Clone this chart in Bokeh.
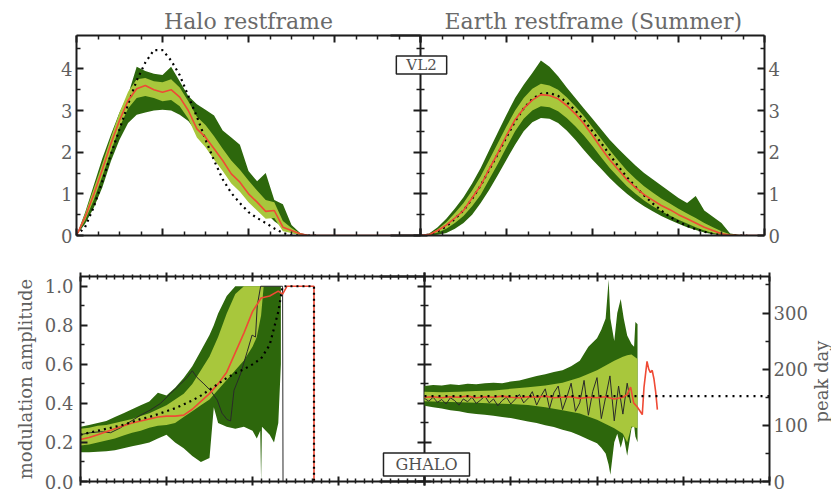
import math
from bokeh.plotting import figure
from bokeh.models import Range1d, LinearAxis, FixedTicker, Label, NumeralTickFormatter
from bokeh.layouts import row, column
from bokeh.embed import file_html
from bokeh.resources import INLINE

# ---------------- data ----------------
# top-left: Halo restframe, speed grid (km/s)
tl_v = [0, 20, 40, 60, 80, 100, 120, 140, 160, 180, 200, 220, 240, 260, 280, 300,
        320, 340, 360, 380, 400, 420, 440, 460, 480, 500, 520, 540, 560]
tl_dark_hi = [0, 0.55, 1.2, 1.85, 2.42, 2.95, 3.38, 4.05, 3.95, 3.88, 3.85, 4.05, 3.7, 3.35, 3.15,
              3.02, 2.88, 2.52, 2.35, 2.18, 1.55, 1.3, 1.5, 0.85, 0.75, 0.25, 0.06, 0.01, 0]
tl_dark_lo = [0, 0.28, 0.66, 1.15, 1.78, 2.3, 2.7, 2.9, 2.95, 3.0, 3.02, 3.0, 2.9, 2.75, 2.48,
              2.18, 1.87, 1.6, 1.38, 1.17, 0.95, 0.76, 0.55, 0.34, 0.2, 0.06, 0.02, 0, 0]
tl_light_hi = [0, 0.52, 1.12, 1.72, 2.35, 2.95, 3.45, 3.75, 3.78, 3.7, 3.68, 3.75, 3.55, 3.22, 2.85,
               2.65, 2.38, 2.08, 1.8, 1.58, 1.32, 1.08, 0.85, 0.8, 0.35, 0.18, 0.05, 0, 0]
tl_light_lo = [0, 0.36, 0.85, 1.42, 2.02, 2.6, 3.05, 3.3, 3.35, 3.3, 3.22, 3.25, 3.1, 2.8, 2.35,
               2.12, 1.82, 1.55, 1.25, 1.05, 0.8, 0.6, 0.4, 0.42, 0.1, 0.06, 0.01, 0, 0]
tl_red_v = tl_v + [800]
tl_red = [0, 0.44, 0.98, 1.58, 2.2, 2.76, 3.24, 3.52, 3.6, 3.5, 3.44, 3.5, 3.32, 3.0, 2.56,
          2.36, 2.08, 1.8, 1.48, 1.28, 1.0, 0.8, 0.58, 0.6, 0.2, 0.12, 0.04, 0, 0, 0]
tl_dot = [0, 0.2, 0.68, 1.3, 1.95, 2.55, 3.15, 3.72, 4.15, 4.45, 4.45, 4.2, 3.85, 3.35, 2.85,
          2.3, 1.8, 1.35, 1.02, 0.78, 0.56, 0.42, 0.3, 0.17, 0.06, 0.01, 0, 0, 0]

# top-right: Earth restframe (Summer)
tr_v = [0, 20, 40, 60, 80, 100, 120, 140, 160, 180, 200, 220, 240, 260, 280, 300, 320, 340, 360,
        380, 400, 420, 440, 460, 480, 500, 520, 540, 560, 580, 600, 620, 640, 660, 680, 700, 720,
        740, 760]
tr_dark_hi = [0, 0.05, 0.2, 0.4, 0.65, 0.92, 1.25, 1.62, 2.05, 2.48, 2.9, 3.3, 3.62, 3.9, 4.2, 4.05,
              3.82, 3.55, 3.3, 3.05, 2.8, 2.55, 2.3, 2.08, 1.88, 1.68, 1.5, 1.35, 1.2, 1.05, 0.9,
              0.78, 0.95, 0.6, 0.45, 0.3, 0.05, 0.02, 0]
tr_dark_lo = [0, 0, 0.02, 0.06, 0.16, 0.3, 0.5, 0.78, 1.1, 1.45, 1.82, 2.18, 2.5, 2.72, 2.82, 2.8,
              2.7, 2.52, 2.3, 2.05, 1.82, 1.6, 1.38, 1.18, 1.0, 0.84, 0.7, 0.58, 0.47, 0.37, 0.28,
              0.2, 0.13, 0.07, 0.03, 0.01, 0, 0, 0]
tr_light_hi = [0, 0.03, 0.15, 0.32, 0.54, 0.78, 1.08, 1.42, 1.82, 2.22, 2.62, 3.0, 3.3, 3.52, 3.64,
               3.6, 3.5, 3.32, 3.1, 2.87, 2.6, 2.32, 2.05, 1.8, 1.56, 1.36, 1.18, 1.03, 0.89, 0.77,
               0.64, 0.53, 0.42, 0.3, 0.2, 0.1, 0.03, 0, 0]
tr_light_lo = [0, 0.01, 0.07, 0.16, 0.3, 0.47, 0.7, 0.98, 1.35, 1.72, 2.12, 2.5, 2.8, 3.0, 3.1, 3.08,
               2.98, 2.82, 2.62, 2.4, 2.15, 1.88, 1.62, 1.4, 1.18, 1.0, 0.84, 0.7, 0.58, 0.48, 0.38,
               0.29, 0.2, 0.12, 0.06, 0.02, 0, 0, 0]
tr_red_v = tr_v + [800]
tr_red = [0, 0.02, 0.12, 0.25, 0.42, 0.6, 0.9, 1.2, 1.6, 1.98, 2.4, 2.78, 3.05, 3.25, 3.38, 3.36,
          3.28, 3.12, 2.92, 2.68, 2.4, 2.1, 1.82, 1.58, 1.34, 1.15, 0.98, 0.85, 0.72, 0.62, 0.5,
          0.4, 0.3, 0.2, 0.12, 0.04, 0.01, 0, 0, 0]
tr_dot = [0, 0.02, 0.1, 0.22, 0.4, 0.6, 0.88, 1.2, 1.58, 1.96, 2.36, 2.74, 3.05, 3.28, 3.4, 3.42,
          3.35, 3.2, 3.0, 2.77, 2.5, 2.22, 1.94, 1.66, 1.4, 1.17, 0.96, 0.77, 0.6, 0.45, 0.33,
          0.23, 0.15, 0.09, 0.04, 0.01, 0, 0, 0]

# bottom-left: modulation amplitude
bl_dark_v = [0, 20, 40, 60, 80, 100, 120, 140, 160, 180, 200, 220, 240, 260, 280, 300, 310, 320,
             340, 360, 380, 400, 410, 418, 420, 422, 440, 450, 460, 466]
bl_dark_hi = [0.28, 0.29, 0.30, 0.31, 0.33, 0.35, 0.37, 0.39, 0.41, 0.455, 0.44, 0.48, 0.53, 0.59,
              0.67, 0.75, 0.80, 0.86, 0.95, 1.0, 1.0, 1.0, 1.0, 1.0, 1.0, 1.0, 1.0, 1.0, 1.0, 1.0]
bl_dark_lo = [0.15, 0.15, 0.152, 0.155, 0.16, 0.17, 0.18, 0.19, 0.2, 0.22, 0.24, 0.2, 0.17, 0.13,
              0.1, 0.12, 0.38, 0.3, 0.28, 0.27, 0.28, 0.26, 0.22, 0.26, 0.0, 0.28, 0.24, 0.2, 0.3, 0.6]
bl_light_v = [0, 20, 40, 60, 80, 100, 120, 140, 160, 180, 200, 220, 240, 260, 280, 300, 320, 340,
              360, 380, 400, 410, 420, 426]
bl_light_hi = [0.27, 0.275, 0.285, 0.29, 0.30, 0.31, 0.32, 0.335, 0.35, 0.37, 0.39, 0.42, 0.45, 0.5,
               0.57, 0.64, 0.74, 0.86, 0.96, 1.0, 1.0, 1.0, 1.0, 1.0]
bl_light_lo = [0.185, 0.19, 0.2, 0.21, 0.22, 0.235, 0.25, 0.26, 0.275, 0.285, 0.29, 0.3, 0.33, 0.36,
               0.39, 0.42, 0.47, 0.52, 0.57, 0.62, 0.69, 0.74, 0.85, 1.0]
bl_red_v = [0, 20, 40, 60, 80, 100, 120, 140, 160, 180, 200, 220, 240, 260, 280, 300, 320, 340, 360,
            380, 400, 420, 440, 460, 470, 480, 500, 520, 540, 543, 543]
bl_red = [0.215, 0.225, 0.24, 0.255, 0.27, 0.285, 0.3, 0.31, 0.32, 0.33, 0.335, 0.335, 0.34, 0.37,
          0.41, 0.45, 0.5, 0.56, 0.66, 0.76, 0.87, 0.94, 0.95, 0.975, 0.96, 1.0, 1.0, 1.0, 1.0, 1.0, 0.0]
bl_dot_v = [0, 20, 40, 60, 80, 100, 120, 140, 160, 180, 200, 220, 240, 260, 280, 300, 320, 340, 360,
            380, 400, 420, 440, 460, 470, 500, 543, 543]
bl_dot = [0.24, 0.25, 0.26, 0.27, 0.28, 0.29, 0.305, 0.32, 0.33, 0.345, 0.36, 0.375, 0.395, 0.415,
          0.44, 0.47, 0.5, 0.53, 0.555, 0.575, 0.6, 0.63, 0.7, 0.87, 1.0, 1.0, 1.0, 0.0]
bl_blk_v = [0, 23, 47, 70, 93, 140, 163, 186, 209, 233, 248, 260, 271, 287, 302, 318, 329, 341, 349,
            357, 372, 388, 399, 407, 411, 419, 470, 471]
bl_blk = [0.24, 0.25, 0.255, 0.25, 0.275, 0.34, 0.367, 0.4, 0.45, 0.5, 0.533, 0.567, 0.533, 0.5,
          0.467, 0.417, 0.35, 0.317, 0.31, 0.467, 0.55, 0.667, 0.75, 0.74, 0.9, 1.0, 1.0, 0.0]

# bottom-right: peak day
br_dark_v = [0, 20, 40, 60, 80, 100, 120, 140, 160, 180, 200, 220, 240, 260, 280, 300, 320, 340,
             360, 380, 400, 410, 420, 427, 431, 440, 447, 455, 462, 470, 480, 486, 489, 494]
br_dark_hi = [170, 172, 171, 173, 172, 174, 173, 175, 176, 175, 178, 180, 184, 188, 191, 195, 198,
              205, 215, 240, 255, 270, 290, 359, 290, 250, 300, 325, 290, 260, 245, 240, 284, 280]
br_dark_lo = [135, 132, 130, 127, 125, 122, 120, 119, 117, 115, 113, 110, 107, 104, 100, 97, 92, 88,
              82, 75, 68, 60, 50, 30, 12, 70, 85, 60, 80, 46, 95, 100, 80, 70]
br_light_v = [0, 40, 80, 120, 160, 200, 240, 280, 320, 360, 400, 440, 460, 470, 480, 494]
br_light_hi = [160, 159, 160, 161, 162, 165, 168, 171, 176, 185, 198, 215, 222, 225, 226, 218]
br_light_lo = [143, 142, 141, 140, 139, 138, 136, 132, 127, 121, 110, 95, 85, 70, 98, 95]
br_red_v = [0, 20, 40, 60, 80, 100, 120, 140, 160, 180, 200, 220, 240, 260, 280, 300, 320, 340, 360,
            380, 400, 420, 440, 460, 470, 478, 485, 493, 500, 505, 509, 516, 520, 524, 528, 532, 536,
            540]
br_red = [150, 151, 149, 151, 150, 152, 149, 151, 150, 152, 150, 149, 151, 150, 152, 149, 150, 151,
          148, 150, 149, 151, 147, 150, 155, 168, 140, 133, 125, 119, 168, 214, 200, 194, 198, 183,
          160, 128]
br_blk_v = [0, 10, 20, 30, 40, 50, 60, 70, 80, 90, 100, 110, 120, 130, 140, 150, 160, 170, 180, 190,
            200, 210, 220, 230, 240, 250, 260, 270, 280, 290, 300, 310, 320, 330, 340, 350, 360, 370,
            380, 390, 400, 410, 420, 430, 440, 450, 460, 470, 478]
br_blk = [148, 143, 150, 141, 146, 138, 149, 144, 136, 147, 142, 150, 139, 145, 152, 140, 147, 135,
          144, 150, 138, 146, 155, 140, 148, 160, 136, 152, 165, 130, 158, 170, 128, 150, 175, 125,
          140, 180, 118, 160, 185, 112, 150, 188, 108, 170, 120, 175, 140]
br_ref_v = [0, 800]
br_ref = [152, 152]

x_major = [0, 200, 400, 600, 800]
x_minor_top = [v for v in range(0, 801, 50) if v % 200]
x_minor_bot = [v for v in range(0, 801, 20) if v % 200]
f_major = [0, 1, 2, 3, 4]
f_minor = [0.5, 1.5, 2.5, 3.5, 4.5]
a_major = [0.0, 0.2, 0.4, 0.6, 0.8, 1.0]
a_minor = [0.1, 0.3, 0.5, 0.7, 0.9]
d_major = [0, 100, 200, 300]
d_minor = [50, 150, 250, 350]

# ---------------- style / geometry ----------------
FONT = "DejaVu Serif"
TXT = "#5f5f5f"
AX = "#1c1c1c"
DARK = "#2d670c"
LIGHT = "#a8c73c"
RED = "#ef4a35"

TOP_H, BOT_H = 256, 236
PW_TOP, PW_BOT = 344, 345        # panel widths in px
INNER = 8                        # border on the right of the left panels (outward ticks)
TR_EXT, BR_EXT = 30, 45          # right panels' frames reach left under the boxed labels


def make_fig(w, h, xr, yr, bl, br, bt, bb, margin=None, frame_fill="white", title=""):
    kw = {}
    if margin is not None:
        kw["margin"] = margin
    p = figure(width=w, height=h, x_range=Range1d(*xr), y_range=Range1d(*yr),
               x_axis_location=None, y_axis_location=None, toolbar_location=None,
               output_backend="svg", min_border_left=bl, min_border_right=br,
               min_border_top=bt, min_border_bottom=bb, title=title, **kw)
    for g in p.grid:
        g.visible = False
    p.outline_line_color = None
    p.background_fill_color = frame_fill
    p.border_fill_color = None
    return p


def add_axis(p, side, ticks, minor, tin, tout, mtin, mtout, labels=False, fmt=None,
             size="18px", y_range_name=None, axis_label=None, standoff=4):
    kw = {}
    if y_range_name:
        kw["y_range_name"] = y_range_name
    ax = LinearAxis(ticker=FixedTicker(ticks=ticks, minor_ticks=minor), **kw)
    ax.axis_line_color = AX
    ax.axis_line_width = 2
    ax.major_tick_line_color = AX
    ax.major_tick_line_width = 2
    ax.minor_tick_line_color = AX
    ax.minor_tick_line_width = 1.5
    ax.major_tick_in = tin
    ax.major_tick_out = tout
    ax.minor_tick_in = mtin
    ax.minor_tick_out = mtout
    if labels:
        ax.major_label_text_font = FONT
        ax.major_label_text_font_size = size
        ax.major_label_text_color = TXT
        ax.major_label_standoff = standoff
        if fmt:
            ax.formatter = NumeralTickFormatter(format=fmt)
    else:
        ax.major_label_text_font_size = "0px"
        ax.major_label_text_color = None
        ax.major_label_standoff = 0
    if axis_label:
        ax.axis_label = axis_label
        ax.axis_label_text_font = FONT
        ax.axis_label_text_font_size = "18px"
        ax.axis_label_text_font_style = "normal"
        ax.axis_label_text_color = TXT
        ax.axis_label_standoff = 6
    p.add_layout(ax, side)
    return ax


def set_title(p, text, align="center", offset=0):
    p.title.text = text
    p.title.align = align
    p.title.offset = offset
    p.title.text_font = FONT
    p.title.text_font_size = "22px"
    p.title.text_font_style = "normal"
    p.title.text_color = "#6a6a6a"
    p.title.standoff = 3


def box_label(p, x, y, text, size, pad, xoff=0):
    p.add_layout(Label(x=x, y=y, text=text, text_align="center", text_baseline="middle",
                       x_offset=xoff, text_font=FONT, text_font_size=size, text_color="#505050",
                       background_fill_color="white", border_line_color="#222222",
                       border_line_width=1.5, padding=pad))


# ---------------- top-left ----------------
tl = make_fig(76 + PW_TOP + INNER, TOP_H, (0, 800), (0, 4.8), 76, INNER, 35, 21)
set_title(tl, "Halo restframe")
add_axis(tl, "left", f_major, f_minor, 7, 0, 4, 0, labels=True)
add_axis(tl, "right", f_major, f_minor, 7, 7, 4, 4)
add_axis(tl, "above", x_major, x_minor_top, 7, 0, 4, 0)
add_axis(tl, "below", x_major, x_minor_top, 7, 0, 4, 0)
tl.varea(x=tl_v, y1=tl_dark_lo, y2=tl_dark_hi, fill_color=DARK)
tl.varea(x=tl_v, y1=tl_light_lo, y2=tl_light_hi, fill_color=LIGHT)
tl.line(tl_v, tl_dot, line_color="black", line_width=2.2, line_dash="2 4")
tl.line(tl_red_v, tl_red, line_color=RED, line_width=1.6)

# ---------------- top-right ----------------
tr_x0 = -800.0 * TR_EXT / PW_TOP
tr = make_fig(TR_EXT + PW_TOP + 67, TOP_H, (tr_x0, 800), (0, 4.8), 0, 67, 35, 21,
              margin=(0, 0, 0, -(INNER + TR_EXT)), frame_fill=None)
set_title(tr, "Earth restframe (Summer)", align="left", offset=TR_EXT + 24)
add_axis(tr, "right", f_major, f_minor, 7, 0, 4, 0, labels=True)
add_axis(tr, "above", x_major, x_minor_top, 7, 0, 4, 0)
add_axis(tr, "below", x_major, x_minor_top, 7, 0, 4, 0)
tr.varea(x=tr_v, y1=tr_dark_lo, y2=tr_dark_hi, fill_color=DARK)
tr.varea(x=tr_v, y1=tr_light_lo, y2=tr_light_hi, fill_color=LIGHT)
tr.line(tr_v, tr_dot, line_color="black", line_width=2.2, line_dash="2 4")
tr.line(tr_red_v, tr_red, line_color=RED, line_width=1.6)
box_label(tr, 0, 4.09, "VL2", "15px", (10, 0), xoff=1)

# ---------------- bottom-left ----------------
bl = make_fig(80 + PW_TOP + INNER, BOT_H, (0, 800), (0, 1.05), 80, INNER, 20, 11)
add_axis(bl, "left", a_major, a_minor, 7, 0, 4, 0, labels=True, fmt="0.0", size="18px",
         axis_label="modulation amplitude", standoff=7)
add_axis(bl, "right", a_major, a_minor, 7, 7, 4, 4)
add_axis(bl, "above", x_major, x_minor_bot, 5, 4, 3, 2)
add_axis(bl, "below", x_major, x_minor_bot, 5, 4, 3, 2)
bl.varea(x=bl_dark_v, y1=bl_dark_lo, y2=bl_dark_hi, fill_color=DARK)
bl.varea(x=bl_light_v, y1=bl_light_lo, y2=bl_light_hi, fill_color=LIGHT)
bl.line(bl_blk_v, bl_blk, line_color="#2a2a2a", line_width=1)
bl.line(bl_red_v, bl_red, line_color=RED, line_width=1.6)
bl.line(bl_dot_v, bl_dot, line_color="black", line_width=2.2, line_dash="2 4")

# ---------------- bottom-right ----------------
br_x0 = -800.0 * BR_EXT / PW_BOT
BR_RIGHT = 41
br = make_fig(BR_EXT + PW_BOT + BR_RIGHT, BOT_H, (br_x0, 800), (0, 1.05), 0, BR_RIGHT, 20, 11,
              margin=(0, 0, 0, -(INNER + BR_EXT)), frame_fill=None)
br.extra_y_ranges = {"peak": Range1d(0, 365)}
add_axis(br, "right", d_major, d_minor, 7, 0, 4, 0, labels=True, y_range_name="peak")
add_axis(br, "above", x_major, x_minor_bot, 5, 4, 3, 2)
add_axis(br, "below", x_major, x_minor_bot, 5, 4, 3, 2)
br.varea(x=br_dark_v, y1=br_dark_lo, y2=br_dark_hi, fill_color=DARK, y_range_name="peak")
br.varea(x=br_light_v, y1=br_light_lo, y2=br_light_hi, fill_color=LIGHT, y_range_name="peak")
br.line(br_blk_v, br_blk, line_color="#2a2a2a", line_width=1, y_range_name="peak")
br.line(br_red_v, br_red, line_color=RED, line_width=1.6, y_range_name="peak")
br.line(br_ref_v, br_ref, line_color="black", line_width=2.2, line_dash="2 5", y_range_name="peak")
box_label(br, 0, 0.087, "GHALO", "16px", (12, 2), xoff=2)

# ---------------- right-hand axis title strip ----------------
used = 80 + PW_TOP + INNER - (INNER + BR_EXT) + BR_EXT + PW_BOT + BR_RIGHT
LAB_OVER = 10
lab_w = 831 - used + LAB_OVER
lab = make_fig(lab_w, BOT_H, (0, 1), (0, 1), 0, 0, 20, 11, margin=(0, 0, 0, -LAB_OVER),
               frame_fill=None)
lab.add_layout(Label(x=(LAB_OVER + 10.5) / lab_w, y=0.488, text="peak day", angle=math.pi / 2,
                     text_align="center", text_baseline="middle", text_font=FONT,
                     text_font_size="18px", text_color=TXT))

layout = column(row(tl, tr, spacing=0), row(bl, br, lab, spacing=0), spacing=0)
open("out.html", "w").write(file_html(layout, INLINE))
